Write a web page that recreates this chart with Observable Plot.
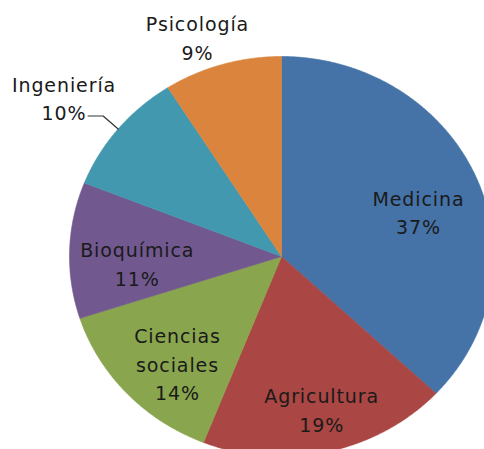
<!DOCTYPE html>
<html><head><meta charset="utf-8">
<script src="https://cdn.jsdelivr.net/npm/d3@7"></script>
<script src="https://cdn.jsdelivr.net/npm/@observablehq/plot@0.6"></script>
<style>
body{margin:0;background:#fff}
#chart svg text{letter-spacing:0.9px}
</style>
</head><body><div id="chart"></div>
<script>
// ---- data ----
const categories = ["Medicina","Agricultura","Ciencias sociales","Bioquímica","Ingeniería","Psicología"];
const values = [37, 19, 14, 11, 10, 9];
const labelNames = ["Medicina","Agricultura","Ciencias\nsociales","Bioquímica","Ingeniería","Psicología"];
const colors = ["#4572A7","#AA4643","#89A54E","#71588F","#4198AF","#DB843D"];

// ---- layout ----
const W = 484, H = 449;
const cx = 281, cy = 256, rx = 212, ry = 200;
const xDomain = [-cx / rx, (W - cx) / rx];
const yDomain = [-(H - cy) / ry, cy / ry];
// label placement per slice: [radius, angle shift in degrees]
const labelLayout = [[0.685, 4], [0.783, -1.4], [0.722, -4], [0.681, -4.3], [1.30, -1.7], [1.17, -3.6]];

const total = d3.sum(values);
let acc = 0;
const slices = categories.map((c, i) => {
  const a0 = acc / total * 2 * Math.PI; acc += values[i];
  const a1 = acc / total * 2 * Math.PI;
  return {name: c, i, a0, a1, mid: (a0 + a1) / 2, pct: Math.round(values[i] / total * 100) + "%"};
});

const pts = [];
for (const s of slices) {
  pts.push({name: s.name, x: 0, y: 0});
  const n = Math.max(2, Math.ceil((s.a1 - s.a0) / (Math.PI / 360)));
  for (let k = 0; k <= n; k++) {
    const a = s.a0 + (s.a1 - s.a0) * k / n;
    pts.push({name: s.name, x: Math.sin(a), y: Math.cos(a)});
  }
  pts.push({name: s.name, x: 0, y: 0});
}

const labels = slices.map(s => {
  const [r, da] = labelLayout[s.i];
  const a = s.mid + da * Math.PI / 180;
  return {x: r * Math.sin(a), y: r * Math.cos(a), text: labelNames[s.i] + "\n" + s.pct};
});

// leader line for the outside label of Ingeniería
const ing = slices[4];
const ex = Math.sin(ing.mid), ey = Math.cos(ing.mid);
const leader = [
  {x: ex, y: ey},
  {x: ex - 15 / rx, y: ey + 13 / ry},
  {x: ex - 30 / rx, y: ey + 13 / ry}
];

const chart = Plot.plot({
  width: W, height: H, margin: 0,
  x: {domain: xDomain, axis: null},
  y: {domain: yDomain, axis: null},
  color: {domain: categories, range: colors},
  style: {fontFamily: "'DejaVu Sans', Verdana, sans-serif", background: "#fff"},
  marks: [
    Plot.line(pts, {x: "x", y: "y", z: "name", fill: "name", stroke: "name", strokeWidth: 0.6, curve: "linear"}),
    Plot.line(leader, {x: "x", y: "y", stroke: "#333", strokeWidth: 1.2}),
    Plot.text(labels, {x: "x", y: "y", text: "text", fontSize: 19, lineHeight: 1.5, fill: "#1a1a1a", textAnchor: "middle"})
  ]
});
document.getElementById("chart").appendChild(chart);
</script>
</body></html>
